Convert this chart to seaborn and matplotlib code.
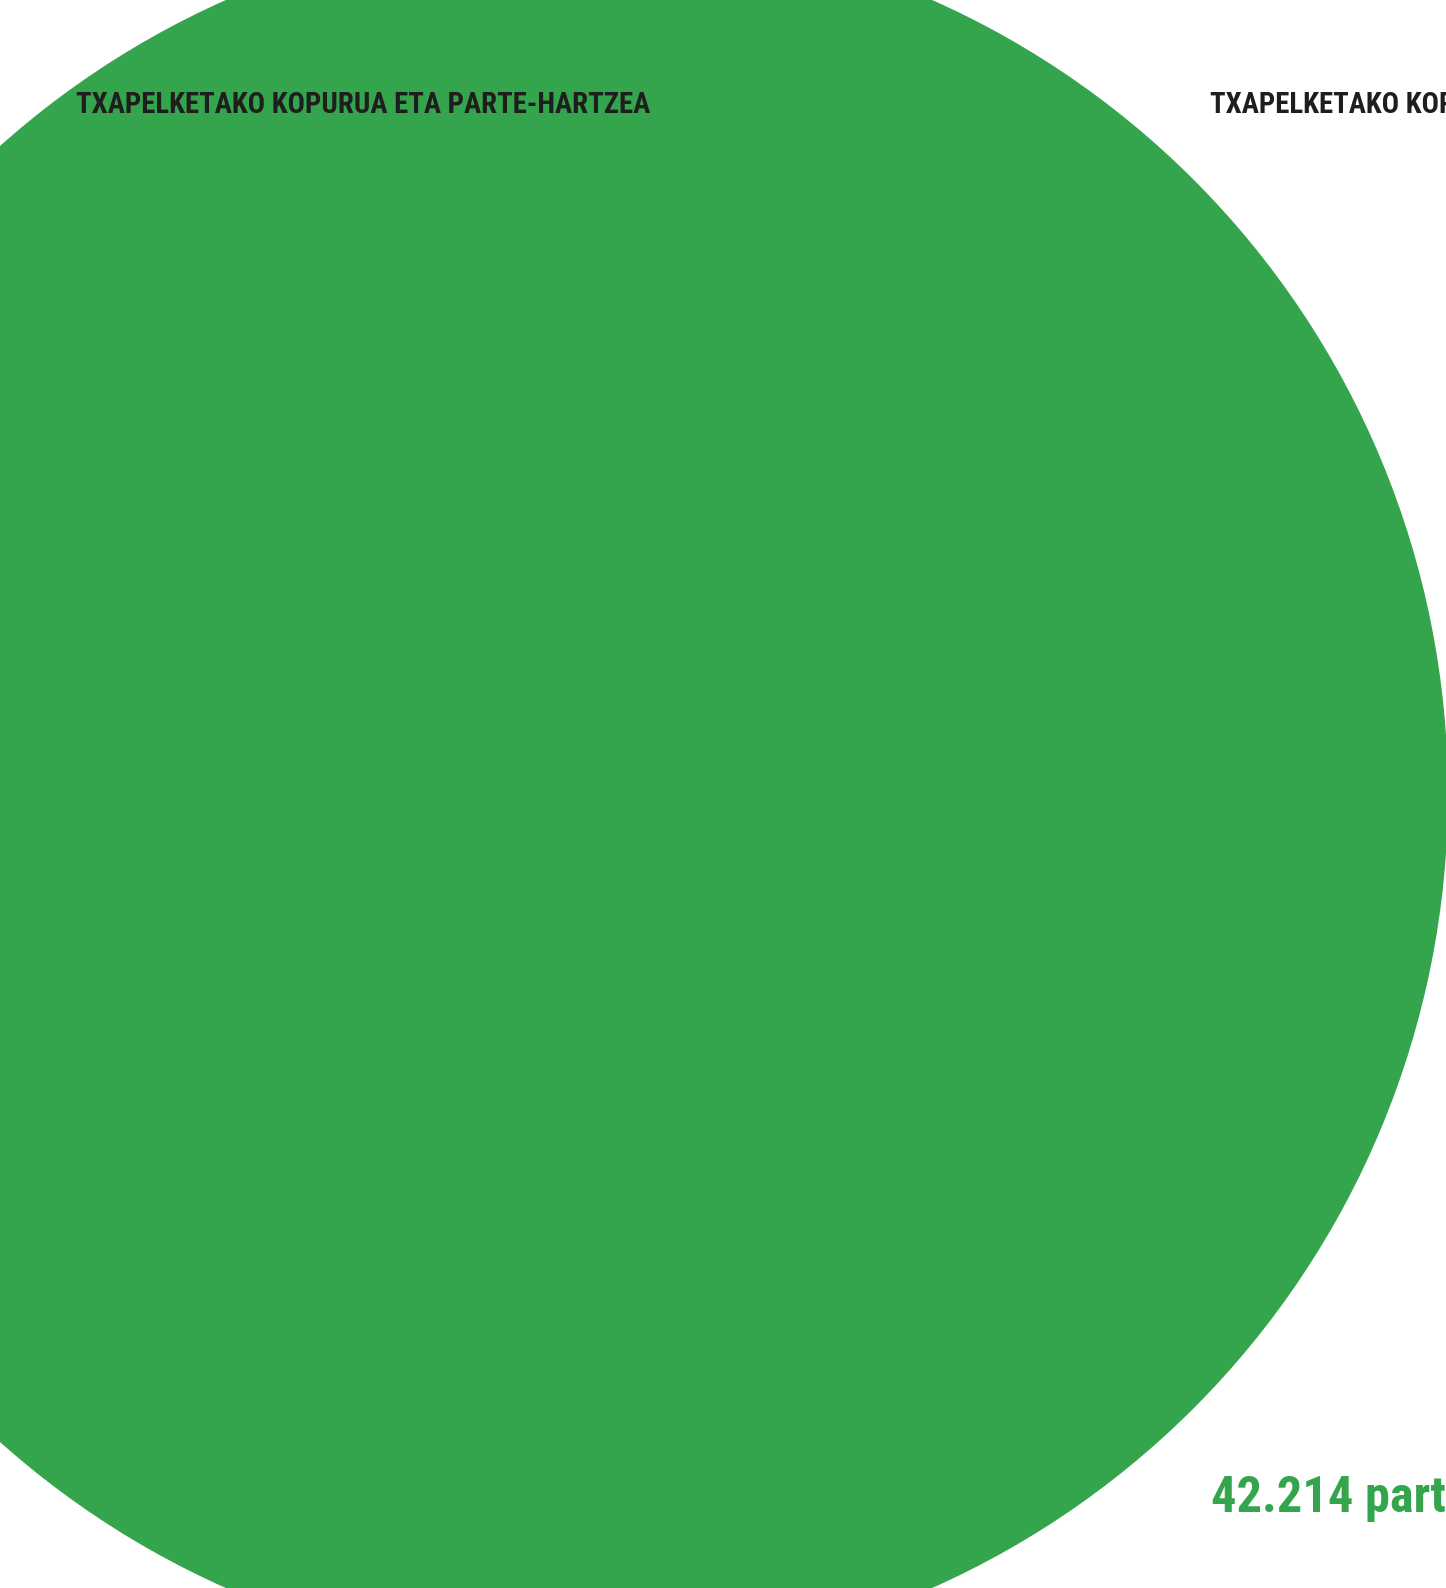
import matplotlib
matplotlib.use("Agg")
import matplotlib.pyplot as plt
from matplotlib import font_manager
import seaborn as sns

# --- Data ---
titles = ["TXAPELKETAKO KOPURUA ETA PARTE-HARTZEA",
          "TXAPELKETAKO KOPURUA ETA PARTE-HARTZEA"]
participants = [42214]
participant_number = "42.214"
participant_word = "parte-hartzaile"

GREEN = "#34a54c"
W, H = 1446, 1588

sns.set_theme(style="white")

# pick the narrowest family that is actually installed
installed = {f.name for f in font_manager.fontManager.ttflist}
family = 'DejaVu Sans'
for cand in ['Liberation Sans Narrow', 'Roboto Condensed', 'Open Sans Condensed',
             'Noto Sans Display', 'Lato', 'Roboto', 'Liberation Sans']:
    if cand in installed:
        family = cand
        break
plt.rcParams['font.family'] = [family, 'DejaVu Sans']
print("font:", family)

fig = plt.figure(figsize=(W / 100, H / 100), dpi=100)
ax = fig.add_axes([0, 0, 1, 1])

# single-wedge pie -> full circle
ax.pie(participants, colors=[GREEN], center=(579, 794), radius=869,
       startangle=90, wedgeprops=dict(linewidth=0))

ax.set_xlim(0, W)
ax.set_ylim(H, 0)
ax.set_aspect('equal')
ax.axis('off')

renderer = fig.canvas.get_renderer()


def fit_size(text, target_w, size=20, weight='bold'):
    t = ax.text(0, 0, text, fontsize=size, fontweight=weight)
    w = t.get_window_extent(renderer).width
    t.remove()
    return size * target_w / w


title_size = fit_size(titles[0], 573)
num_size = fit_size(participant_number, 142)

ax.text(76, 113, titles[0], fontsize=title_size, fontweight='bold',
        color='#1e1e1e', ha='left', va='baseline')
ax.text(1210, 113, titles[1], fontsize=title_size, fontweight='bold',
        color='#1e1e1e', ha='left', va='baseline')
ax.text(1211, 1512, participant_number + " " + participant_word,
        fontsize=num_size, fontweight='bold',
        color=GREEN, ha='left', va='baseline')

fig.savefig("out.png", dpi=100, facecolor='white')
